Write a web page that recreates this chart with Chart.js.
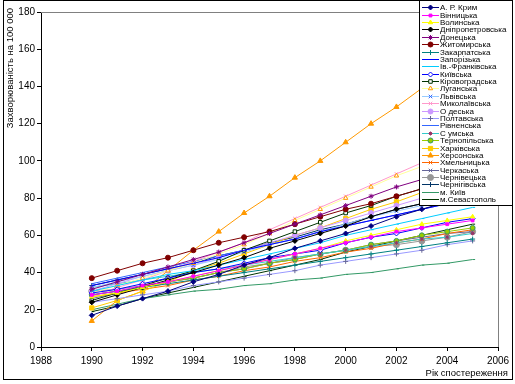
<!DOCTYPE html>
<html>
<head>
<meta charset="utf-8">
<script src="https://cdn.jsdelivr.net/npm/chart.js@4/dist/chart.umd.min.js"></script>
<style>
  html, body { margin: 0; padding: 0; background: #fff; }
  #wrap { width: 515px; height: 384px; position: relative; }
</style>
</head>
<body>
<div id="wrap"><canvas id="myChart"></canvas></div>
<script>
// years of observation
const years = [1990, 1991, 1992, 1993, 1994, 1995, 1996, 1997, 1998, 1999, 2000, 2001, 2002, 2003, 2004, 2005];

// incidence per 100 000, by region
const krym       = [17, 22, 26, 30, 35, 39, 44, 48, 53, 57, 61, 65, 70, 74, 78, 82];
const vinnytsia  = [28, 30, 33, 35, 38, 41, 44, 47, 50, 53, 56, 59, 62, 64, 66, 68];
const volyn      = [27, 29, 32, 35, 38, 41, 44, 47, 50, 53, 57, 60, 63, 66, 68, 70];
const dnipro     = [24, 28, 32, 36, 40, 44, 48, 53, 57, 61, 65, 70, 74, 77, 80, 83];
const donetsk    = [31, 35, 39, 43, 47, 51, 56, 61, 66, 71, 76, 81, 86, 90, 94, 98];
const zhytomyr   = [37, 41, 45, 48, 52, 56, 59, 62, 66, 70, 74, 77, 81, 85, 88, 92];
const zakarpattia= [28, 30, 32, 34, 36, 38, 40, 42, 44, 46, 48, 50, 52, 54, 56, 58];
const zaporizhzhia=[33, 36, 39, 42, 45, 48, 52, 55, 58, 62, 65, 68, 71, 74, 77, 80];
const ivFrankivsk= [30, 33, 36, 39, 41, 44, 47, 50, 53, 56, 60, 63, 66, 69, 72, 75];
const kyivska    = [29, 31, 34, 37, 40, 42, 45, 48, 50, 52, 56, 59, 61, 64, 67, 69];
const kirovohrad = [25, 29, 33, 37, 41, 46, 52, 57, 62, 67, 72, 76, 81, 85, 89, 93];
const luhansk    = [29, 33, 37, 41, 45, 50, 55, 61, 68, 74, 80, 86, 92, 97, 102, 107];
const lviv       = [32, 35, 38, 41, 44, 47, 51, 55, 58, 62, 66, 70, 73, 76, 79, 82];
const mykolaiv   = [27, 32, 36, 41, 46, 51, 56, 63, 69, 75, 81, 87, 93, 99, 105, 111];
const odesa      = [30, 34, 38, 41, 44, 48, 52, 56, 60, 64, 68, 72, 76, 80, 84, 88];
const poltava    = [24, 26, 28, 30, 33, 35, 37, 39, 41, 44, 46, 48, 50, 52, 55, 57];
const rivne      = [34, 37, 40, 43, 46, 49, 52, 55, 58, 62, 65, 68, 71, 74, 77, 80];
const sumy       = [32, 34, 36, 38, 40, 42, 44, 46, 48, 50, 52, 54, 56, 58, 59, 61];
const ternopil   = [28, 30, 32, 35, 37, 40, 42, 45, 47, 50, 52, 55, 57, 60, 62, 64];
const kharkiv    = [21, 25, 30, 35, 41, 45, 50, 55, 60, 64, 69, 74, 78, 83, 87, 92];
const kherson    = [14, 25, 30, 41, 52, 62, 72, 81, 91, 100, 110, 120, 129, 139, 149, 158];
const khmelnytsk = [27, 29, 31, 33, 36, 38, 41, 43, 46, 48, 51, 53, 56, 58, 61, 63];
const cherkasy   = [26, 29, 32, 35, 37, 40, 42, 45, 47, 50, 52, 55, 57, 59, 61, 62];
const chernivtsi = [30, 31, 33, 35, 37, 40, 43, 45, 48, 50, 52, 54, 55, 57, 59, 62];
const chernihiv  = [33, 36, 39, 42, 45, 49, 52, 56, 59, 63, 66, 70, 74, 77, 81, 85];
const kyivCity   = [20, 23, 26, 28, 30, 31, 33, 34, 36, 37, 39, 40, 42, 44, 45, 47];
const sevastopol = [19, 22, 26, 29, 32, 35, 38, 41, 44, 47, 51, 54, 57, 60, 63, 66];

const regionNames = ['А. Р. Крим', 'Вінницька', 'Волинська', 'Дніпропетровська', 'Донецька',
  'Житомирська', 'Закарпатська', 'Запорізька', 'Ів.-Франківська', 'Київська', 'Кіровоградська',
  'Луганська', 'Львівська', 'Миколаївська', 'О деська', 'Полтавська', 'Рівненська', 'С умська',
  'Тернопільська', 'Харківська', 'Херсонська', 'Хмельницька', 'Черкаська', 'Чернівецька',
  'Чернігівська', 'м. Київ', 'м.Севастополь'];
const regionValues = [krym, vinnytsia, volyn, dnipro, donetsk, zhytomyr, zakarpattia, zaporizhzhia,
  ivFrankivsk, kyivska, kirovohrad, luhansk, lviv, mykolaiv, odesa, poltava, rivne, sumy, ternopil,
  kharkiv, kherson, khmelnytsk, cherkasy, chernivtsi, chernihiv, kyivCity, sevastopol];

const xTicks = [1988, 1990, 1992, 1994, 1996, 1998, 2000, 2002, 2004, 2006];
const yTicks = [0, 20, 40, 60, 80, 100, 120, 140, 160, 180];

// styles: [line colour, marker colour, marker fill, point style, radius]
const styles = [
  ['#000080', '#000080', '#000080', 'rectRot', 2.5],
  ['#FF00FF', '#FF00FF', '#FF00FF', 'rect', 2],
  ['#FFFF00', '#FFFF00', '#FFFF00', 'triangle', 2.5],
  ['#000000', '#000000', '#000000', 'rectRot', 2.5],
  ['#800080', '#800080', '#800080', 'star', 2.5],
  ['#800000', '#800000', '#800000', 'circle', 2.5],
  ['#008080', '#008080', '#008080', 'cross', 2.5],
  ['#0000FF', '#0000FF', '#0000FF', 'dash', 2.5],
  ['#00CCFF', '#00CCFF', '#00CCFF', 'dash', 2.5],
  ['#0000FF', '#0000FF', '#FFFFFF', 'rectRot', 2.5],
  ['#003300', '#003300', '#FFFFFF', 'rect', 2.5],
  ['#FFFF99', '#FF9900', '#FFFFFF', 'triangle', 2.5],
  ['#99CCFF', '#3366FF', '#99CCFF', 'crossRot', 2.5],
  ['#FF99CC', '#FF99CC', '#FF99CC', 'crossRot', 2.5],
  ['#CC99FF', '#CC99FF', '#CC99FF', 'circle', 2.5],
  ['#9999FF', '#666699', '#666699', 'cross', 2.5],
  ['#3366FF', '#3366FF', '#3366FF', 'dash', 2.5],
  ['#33CCCC', '#993366', '#33CCCC', 'star', 2],
  ['#99CC00', '#339966', '#99CC00', 'circle', 2.5],
  ['#FFCC00', '#FFCC00', '#FFCC00', 'rect', 3],
  ['#FF9900', '#FF9900', '#FF9900', 'triangle', 3],
  ['#FF6600', '#FF6600', '#FF6600', 'crossRot', 2.5],
  ['#666699', '#666699', '#666699', 'crossRot', 2.5],
  ['#969696', '#969696', '#969696', 'circle', 3],
  ['#003366', '#003366', '#003366', 'cross', 2.5],
  ['#339966', '#339966', '#339966', 'dash', 2.5],
  ['#003300', '#003300', '#003300', 'dash', 2.5]
];

const datasets = regionNames.map((name, i) => {
  const s = styles[i];
  return {
    label: name,
    data: years.map((yr, j) => ({ x: yr, y: regionValues[i][j] })),
    borderColor: s[0],
    borderWidth: 1,
    pointBorderColor: s[1],
    pointBackgroundColor: s[2],
    pointStyle: s[3],
    pointRadius: s[4],
    pointBorderWidth: 1,
    tension: 0,
    fill: false
  };
});

// frame, axis titles and the floating legend box
const decorations = {
  id: 'decorations',
  afterDraw(chart) {
    const ctx = chart.ctx;
    const area = chart.chartArea;
    ctx.save();

    // grey top and right edges of the plot
    ctx.strokeStyle = '#808080';
    ctx.lineWidth = 1;
    ctx.beginPath();
    ctx.moveTo(area.left, area.top + 0.5);
    ctx.lineTo(area.right + 0.5, area.top + 0.5);
    ctx.lineTo(area.right + 0.5, area.bottom);
    ctx.stroke();

    // outer border
    ctx.strokeStyle = '#000';
    ctx.strokeRect(3.5, 0.5, 509, 379);

    ctx.fillStyle = '#000';
    ctx.font = '9.5px Arial, "Liberation Sans", sans-serif';
    ctx.textAlign = 'right';
    ctx.textBaseline = 'middle';
    ctx.fillText('Рік спостереження', 508, 373);

    ctx.translate(10, 8);
    ctx.rotate(-Math.PI / 2);
    ctx.fillText('Захворюваність на 100 000', 0, 0);
    ctx.restore();

    // legend
    ctx.save();
    ctx.fillStyle = '#fff';
    ctx.fillRect(420, 0, 93, 205);
    ctx.strokeStyle = '#000';
    ctx.lineWidth = 1;
    ctx.strokeRect(419.5, 0.5, 93, 205);
    ctx.font = '8px Arial, "Liberation Sans", sans-serif';
    ctx.textAlign = 'left';
    ctx.textBaseline = 'middle';
    regionNames.forEach((name, i) => {
      const s = styles[i];
      const y = Math.round(7.3 + i * 7.38) + 0.5;
      ctx.strokeStyle = s[0];
      ctx.beginPath();
      ctx.moveTo(422, y);
      ctx.lineTo(439, y);
      ctx.stroke();
      ctx.strokeStyle = s[1];
      ctx.fillStyle = s[2];
      if (Chart.helpers && Chart.helpers.drawPoint) {
        Chart.helpers.drawPoint(ctx, { pointStyle: s[3], rotation: 0, radius: s[4], borderWidth: 1 }, 430.5, y);
      }
      ctx.fillStyle = '#000';
      ctx.fillText(name, 440, y);
    });
    ctx.restore();
  }
};

const chart = new Chart(document.getElementById('myChart').getContext('2d'), {
  type: 'line',
  data: { datasets: datasets },
  options: {
    responsive: true,
    maintainAspectRatio: false,
    animation: false,
    layout: { padding: { left: 0, right: 17, top: 12, bottom: 0 } },
    plugins: { legend: { display: false }, tooltip: { enabled: false } },
    scales: {
      x: {
        type: 'linear',
        min: xTicks[0],
        max: xTicks[xTicks.length - 1],
        afterBuildTicks: (scale) => { scale.ticks = xTicks.map(v => ({ value: v })); },
        afterFit: (scale) => { scale.height = 37; },
        grid: { drawOnChartArea: false, drawTicks: true, tickLength: 4, color: '#000' },
        border: { color: '#000', width: 1 },
        ticks: {
          color: '#000',
          padding: 4,
          maxRotation: 0,
          font: { family: 'Arial, "Liberation Sans", sans-serif', size: 10 },
          callback: (v) => String(v)
        }
      },
      y: {
        min: yTicks[0],
        max: yTicks[yTicks.length - 1],
        afterBuildTicks: (scale) => { scale.ticks = yTicks.map(v => ({ value: v })); },
        afterFit: (scale) => { scale.width = 41; },
        grid: { drawOnChartArea: false, drawTicks: true, tickLength: 4, color: '#000' },
        border: { color: '#000', width: 1 },
        ticks: {
          color: '#000',
          padding: 2,
          font: { family: 'Arial, "Liberation Sans", sans-serif', size: 10 }
        }
      }
    }
  },
  plugins: [decorations]
});
</script>
</body>
</html>
